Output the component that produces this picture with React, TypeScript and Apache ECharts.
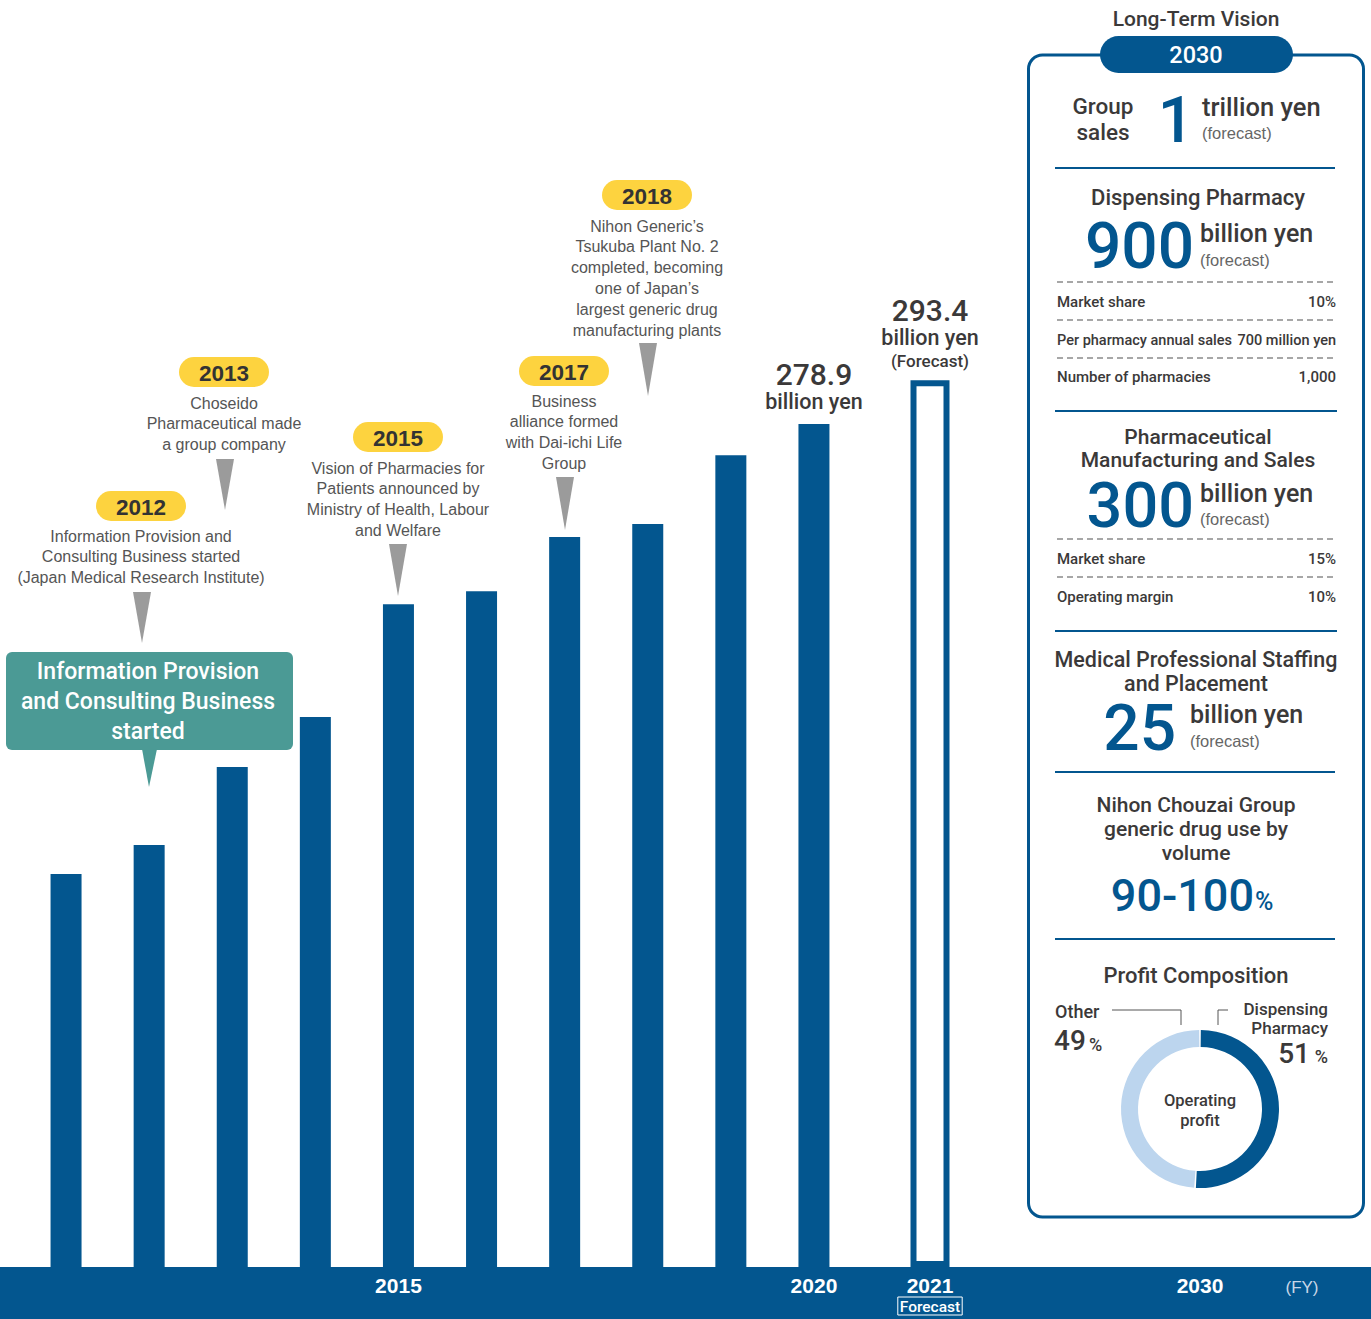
import React, { useEffect, useRef } from 'react';
import * as echarts from 'echarts';

// ---------- data ----------
const historyYears = ['2011', '2012', '2013', '2014', '2015', '2016', '2017', '2018', '2019', '2020'];
const historySales = [130.0, 139.6, 165.4, 182.0, 219.3, 223.6, 241.5, 245.8, 268.6, 278.9];
const forecastYears = ['2021'];
const forecastSales = [293.4];
const labeledYears = ['2015', '2020'];
const visionYear = '2030';

const eventYears = ['2012', '2013', '2015', '2017', '2018'];
const eventTexts = [
  ['Information Provision and', 'Consulting Business started', '(Japan Medical Research Institute)'],
  ['Choseido', 'Pharmaceutical made', 'a group company'],
  ['Vision of Pharmacies for', 'Patients announced by', 'Ministry of Health, Labour', 'and Welfare'],
  ['Business', 'alliance formed', 'with Dai-ichi Life', 'Group'],
  ["Nihon Generic\u2019s", 'Tsukuba Plant No. 2', 'completed, becoming', "one of Japan\u2019s", 'largest generic drug', 'manufacturing plants'],
];
const highlightLines = ['Information Provision', 'and Consulting Business', 'started'];

const profitNames = ['Dispensing Pharmacy', 'Other'];
const profitShares = [51, 49];

// ---------- styles ----------
const BLUE = '#03568F';
const LIGHTBLUE = '#BCD5EE';
const DARK = '#3b3939';
const GREY = '#555555';
const YELLOW = '#FDD33F';
const TEAL = '#4B9A95';
const FONT = '"Liberation Sans", Arial, Helvetica, sans-serif';
const MED = 'Roboto, "Liberation Sans", Arial, sans-serif';

function buildGraphics() {
  const el: any[] = [];
  const text = (x: number, y: number, s: string, size: number, opt: any = {}) => {
    const align = opt.align || 'center';
    el.push({
      type: 'text', x, y, z: 20, silent: true,
      style: {
        text: s, fontSize: size, fontFamily: opt.family || FONT, fontWeight: opt.weight || 'normal',
        fill: opt.color || DARK, textAlign: align, align,
        textVerticalAlign: 'middle', verticalAlign: 'middle',
        lineHeight: opt.lineHeight,
      },
    });
  };
  const med = (x: number, y: number, s: string, size: number, opt: any = {}) =>
    text(x, y, s, size, { family: MED, weight: 500, ...opt });
  const hline = (x1: number, x2: number, y: number, dashed: boolean) => {
    el.push({
      type: 'line', z: 20, silent: true,
      shape: { x1, y1: y, x2, y2: y },
      style: dashed
        ? { stroke: '#8a8a8a', lineWidth: 1.5, lineDash: [6, 4] }
        : { stroke: BLUE, lineWidth: 2 },
    });
  };

  // bottom band
  el.push({ type: 'rect', z: 1, silent: true, shape: { x: 0, y: 1267, width: 1371, height: 52 }, style: { fill: BLUE } });
  text(1200, 1285, visionYear, 21, { color: '#fff', weight: 'bold' });
  text(1302, 1287, '(FY)', 17, { color: '#c9d7e8' });

  // event annotations
  const layout = [
    { cx: 141, pillY: 506, lineY: 536, px: 142, top: 592, tip: 643 },
    { cx: 224, pillY: 372, lineY: 403, px: 225, top: 459, tip: 510 },
    { cx: 398, pillY: 437, lineY: 468, px: 398, top: 544, tip: 596 },
    { cx: 564, pillY: 371, lineY: 401, px: 565, top: 477, tip: 530 },
    { cx: 647, pillY: 195, lineY: 226, px: 648, top: 343, tip: 396 },
  ];
  eventYears.forEach((yr, i) => {
    const L = layout[i];
    el.push({ type: 'rect', z: 15, silent: true, shape: { x: L.cx - 45, y: L.pillY - 15, width: 90, height: 30, r: 15 }, style: { fill: YELLOW } });
    text(L.cx, L.pillY + 1, yr, 22.5, { weight: 'bold', color: '#333' });
    eventTexts[i].forEach((line, j) => text(L.cx, L.lineY + j * 20.8, line, 16, { color: GREY }));
    el.push({ type: 'polygon', z: 15, silent: true, shape: { points: [[L.px - 9, L.top], [L.px + 9, L.top], [L.px, L.tip]] }, style: { fill: '#9b9b9b' } });
  });

  // highlight box
  el.push({ type: 'rect', z: 15, silent: true, shape: { x: 6, y: 652, width: 287, height: 98, r: 6 }, style: { fill: TEAL } });
  el.push({ type: 'polygon', z: 15, silent: true, shape: { points: [[142, 749], [157, 749], [149, 787]] }, style: { fill: TEAL } });
  med(148, 701, highlightLines.join('\n'), 23, { color: '#fff', lineHeight: 30 });

  // right panel
  el.push({ type: 'rect', z: 10, silent: true, shape: { x: 1028.5, y: 55, width: 335, height: 1162, r: 14 }, style: { fill: '#fff', stroke: BLUE, lineWidth: 3 } });
  el.push({ type: 'rect', z: 12, silent: true, shape: { x: 1100, y: 36, width: 193, height: 37, r: 18.5 }, style: { fill: BLUE } });
  med(1196, 55, visionYear, 23.5, { color: '#fff' });
  med(1196, 19, 'Long-Term Vision', 21);

  // group sales
  med(1103, 119, 'Group\nsales', 22.5, { lineHeight: 25.5 });
  med(1176, 120, '1', 64, { color: BLUE, lineHeight: 48 });
  med(1202, 107, 'trillion yen', 25.5, { align: 'left' });
  text(1202, 133, '(forecast)', 16.5, { align: 'left', color: '#666' });
  hline(1055, 1335, 168, false);

  // dispensing pharmacy
  med(1198, 197, 'Dispensing Pharmacy', 22);
  med(1194, 246, '900', 64, { align: 'right', color: BLUE, lineHeight: 50 });
  med(1200, 233, 'billion yen', 25, { align: 'left' });
  text(1200, 260, '(forecast)', 16.5, { align: 'left', color: '#666' });
  hline(1057, 1337, 282, true);
  med(1057, 302, 'Market share', 15, { align: 'left' });
  med(1336, 302, '10%', 15, { align: 'right' });
  hline(1057, 1337, 320, true);
  med(1057, 340, 'Per pharmacy annual sales', 14.5, { align: 'left' });
  med(1336, 340, '700 million yen', 14.5, { align: 'right' });
  hline(1057, 1337, 358, true);
  med(1057, 377, 'Number of pharmacies', 15, { align: 'left' });
  med(1336, 377, '1,000', 15, { align: 'right' });
  hline(1055, 1337, 411, false);

  // pharmaceutical manufacturing
  med(1198, 448.5, 'Pharmaceutical\nManufacturing and Sales', 21, { lineHeight: 23.5 });
  med(1194, 505.5, '300', 63, { align: 'right', color: BLUE, lineHeight: 50 });
  med(1200, 493, 'billion yen', 25, { align: 'left' });
  text(1200, 519, '(forecast)', 16.5, { align: 'left', color: '#666' });
  hline(1057, 1337, 539, true);
  med(1057, 559, 'Market share', 15, { align: 'left' });
  med(1336, 559, '15%', 15, { align: 'right' });
  hline(1057, 1337, 577, true);
  med(1057, 597, 'Operating margin', 15, { align: 'left' });
  med(1336, 597, '10%', 15, { align: 'right' });
  hline(1055, 1337, 631, false);

  // staffing
  med(1196, 671.5, 'Medical Professional Staffing\nand Placement', 21.5, { lineHeight: 24.5 });
  med(1176, 728, '25', 64, { align: 'right', color: BLUE, lineHeight: 50 });
  med(1190, 714, 'billion yen', 25, { align: 'left' });
  text(1190, 741, '(forecast)', 16.5, { align: 'left', color: '#666' });
  hline(1055, 1335, 772, false);

  // generic drug use
  med(1196, 828.5, 'Nihon Chouzai Group\ngeneric drug use by\nvolume', 21, { lineHeight: 24 });
  med(1254, 895, '90-100', 45, { align: 'right', color: BLUE, lineHeight: 40 });
  med(1255, 901, '%', 25, { align: 'left', color: BLUE });
  hline(1055, 1335, 939, false);

  // profit composition
  med(1196, 975, 'Profit Composition', 22);
  med(1055, 1011, 'Other', 18, { align: 'left' });
  med(1054, 1040, String(profitShares[1]), 28, { align: 'left', lineHeight: 24 });
  med(1089, 1044, '%', 18, { align: 'left' });
  med(1328, 1018.5, 'Dispensing\nPharmacy', 17, { align: 'right', lineHeight: 19 });
  med(1310, 1053, String(profitShares[0]), 28, { align: 'right', lineHeight: 24 });
  med(1328, 1056, '%', 18, { align: 'right' });
  el.push({ type: 'polyline', z: 20, silent: true, shape: { points: [[1112, 1010], [1181, 1010], [1181, 1025]] }, style: { stroke: '#555', lineWidth: 1, fill: 'none' } });
  el.push({ type: 'polyline', z: 20, silent: true, shape: { points: [[1228, 1010], [1218, 1010], [1218, 1025]] }, style: { stroke: '#555', lineWidth: 1, fill: 'none' } });
  med(1200, 1110, 'Operating\nprofit', 16.5, { lineHeight: 20 });

  return el;
}

export default function App() {
  const ref = useRef<HTMLDivElement>(null);
  useEffect(() => {
    if (!ref.current) return;
    const chart = echarts.init(ref.current, null, { renderer: 'svg' });
    const lastIdx = historySales.length - 1;
    const option: any = {
      animation: false,
      backgroundColor: '#ffffff',
      textStyle: { fontFamily: FONT },
      grid: [
        { left: 24.5, width: 831, top: 58, bottom: 52 },
        { left: 890, width: 80, top: 58, bottom: 52 },
      ],
      xAxis: [
        {
          type: 'category', gridIndex: 0, data: historyYears, z: 10,
          axisLine: { show: false }, axisTick: { show: false },
          axisLabel: {
            interval: 0, margin: 7.5, color: '#fff', fontWeight: 'bold', fontSize: 21, fontFamily: FONT,
            formatter: (v: string) => (labeledYears.includes(v) ? v : ''),
          },
        },
        {
          type: 'category', gridIndex: 1, data: forecastYears, z: 10,
          axisLine: { show: false }, axisTick: { show: false },
          axisLabel: {
            interval: 0, margin: 7, fontFamily: FONT,
            formatter: (v: string) => `{y|${v}}\n{f|Forecast}`,
            rich: {
              y: { color: '#fff', fontWeight: 'bold', fontSize: 21, lineHeight: 22, fontFamily: FONT },
              f: { color: '#fff', fontSize: 15.5, lineHeight: 20, borderColor: '#fff', borderWidth: 1, padding: [2, 2, 0, 2], fontFamily: MED, fontWeight: 500 },
            },
          },
        },
      ],
      yAxis: [
        { type: 'value', gridIndex: 0, min: 0, max: 400, show: false },
        { type: 'value', gridIndex: 1, min: 0, max: 400, show: false },
      ],
      graphic: { elements: buildGraphics() },
      series: [
        {
          type: 'bar', xAxisIndex: 0, yAxisIndex: 0, barWidth: 31, z: 3, silent: true,
          itemStyle: { color: BLUE },
          data: historySales.map((v, i) =>
            i === lastIdx
              ? {
                  value: v,
                  label: {
                    show: true, position: 'top', distance: 10,
                    formatter: (p: any) => `{v|${p.value}}\n{u|billion yen}`,
                    rich: {
                      v: { fontSize: 30, lineHeight: 30, color: DARK, fontFamily: MED, fontWeight: 500 },
                      u: { fontSize: 21.5, lineHeight: 25, color: DARK, fontFamily: MED, fontWeight: 500 },
                    },
                  },
                }
              : v
          ),
        },
        {
          type: 'bar', xAxisIndex: 1, yAxisIndex: 1, barWidth: 39, z: 3, silent: true,
          itemStyle: { color: '#ffffff', borderColor: BLUE, borderWidth: 6 },
          data: forecastSales.map((v) => ({
            value: v,
            label: {
              show: true, position: 'top', distance: 8,
              formatter: (p: any) => `{v|${p.value}}\n{u|billion yen}\n{f|(Forecast)}`,
              rich: {
                v: { fontSize: 30, lineHeight: 30, color: DARK, fontFamily: MED, fontWeight: 500 },
                u: { fontSize: 21.5, lineHeight: 25, color: DARK, fontFamily: MED, fontWeight: 500 },
                f: { fontSize: 17, lineHeight: 22, color: DARK, fontFamily: MED, fontWeight: 500 },
              },
            },
          })),
        },
        {
          type: 'pie', center: [1200, 1109], radius: [62, 79], startAngle: 90, clockwise: true,
          padAngle: 1.2, silent: true, z: 25,
          label: { show: false }, labelLine: { show: false },
          data: profitNames.map((n, i) => ({ name: n, value: profitShares[i], itemStyle: { color: [BLUE, LIGHTBLUE][i] } })),
        },
      ],
    };
    chart.setOption(option);
    return () => chart.dispose();
  }, []);
  return <div ref={ref} style={{ position: 'absolute', left: 0, top: 0, width: 1371, height: 1319 }} />;
}
